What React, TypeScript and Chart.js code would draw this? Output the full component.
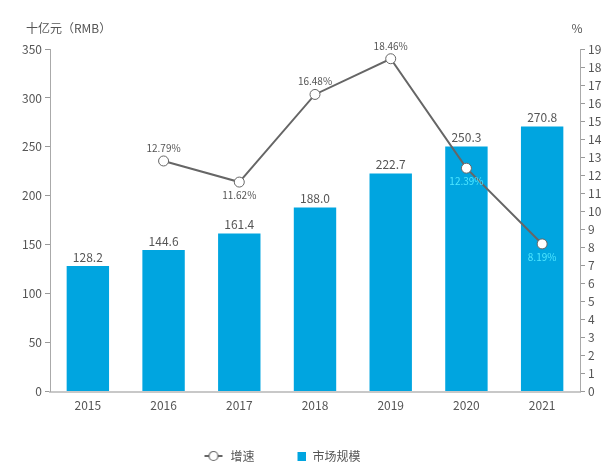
import { useEffect, useRef } from "react"
import { Chart, registerables } from "chart.js"
import type { Plugin } from "chart.js"

Chart.register(...registerables)

const years = ["2015", "2016", "2017", "2018", "2019", "2020", "2021"]
const marketSize = [128.2, 144.6, 161.4, 188.0, 222.7, 250.3, 270.8]
const growthRate = [null, 12.79, 11.62, 16.48, 18.46, 12.39, 8.19]
const growthLabelBelow = [false, false, true, false, false, true, true]
const leftTitle = "十亿元（RMB）"
const rightTitle = "%"

const FONT = "'Noto Sans CJK SC', 'Noto Sans', sans-serif"
const BLUE = "#00A5E0"
const GREY = "#666666"
const TEXT = "#555555"

// legend icons, both 22px wide so the legend boxes line up
function makeLineIcon() {
  const c = document.createElement("canvas")
  c.width = 22
  c.height = 12
  const ctx = c.getContext("2d")
  if (ctx) {
    ctx.strokeStyle = GREY
    ctx.lineWidth = 2
    ctx.beginPath()
    ctx.moveTo(2, 6)
    ctx.lineTo(20, 6)
    ctx.stroke()
    ctx.beginPath()
    ctx.arc(11, 6, 4.5, 0, Math.PI * 2)
    ctx.fillStyle = "#fff"
    ctx.fill()
    ctx.lineWidth = 1.2
    ctx.stroke()
  }
  return c
}

function makeSquareIcon() {
  const c = document.createElement("canvas")
  c.width = 22
  c.height = 12
  const ctx = c.getContext("2d")
  if (ctx) {
    ctx.fillStyle = BLUE
    ctx.fillRect(13, 2, 9, 9)
  }
  return c
}

// legend in the original sits a little left of centre
const legendShift: Plugin = {
  id: "legendShift",
  afterLayout(chart) {
    const lg: any = chart.legend
    if (!lg) return
    lg.left -= 22
    lg.right -= 22
  },
}

const labelPlugin: Plugin = {
  id: "labels",
  afterDatasetsDraw(chart) {
    const ctx = chart.ctx
    ctx.save()
    ctx.textAlign = "center"

    // bar values
    const barMeta = chart.getDatasetMeta(1)
    ctx.font = `12px ${FONT}`
    ctx.fillStyle = TEXT
    ctx.textBaseline = "bottom"
    barMeta.data.forEach((el, i) => {
      ctx.fillText(marketSize[i].toFixed(1), el.x, el.y - 3)
    })

    // growth labels
    const lineMeta = chart.getDatasetMeta(0)
    ctx.font = `10px ${FONT}`
    lineMeta.data.forEach((el, i) => {
      const v = growthRate[i]
      if (v == null) return
      const below = growthLabelBelow[i]
      const inBar = i >= 5
      ctx.fillStyle = inBar ? "#4FE6FF" : TEXT
      ctx.textBaseline = below ? "top" : "bottom"
      ctx.fillText(v.toFixed(2) + "%", el.x, below ? el.y + 8 : el.y - 8)
    })

    // axis titles
    const area = chart.chartArea
    ctx.font = `12px ${FONT}`
    ctx.fillStyle = TEXT
    ctx.textBaseline = "middle"
    ctx.textAlign = "left"
    ctx.fillText(leftTitle, 26, area.top - 21)
    ctx.textAlign = "center"
    ctx.fillText(rightTitle, area.right - 3, area.top - 21)
    ctx.restore()
  },
}

export default function App() {
  const chartRef = useRef<HTMLCanvasElement>(null)
  const chartInstance = useRef<Chart | null>(null)

  useEffect(() => {
    document.body.style.margin = "0"
    if (!chartRef.current) return
    if (chartInstance.current) chartInstance.current.destroy()
    const ctx = chartRef.current.getContext("2d")
    if (!ctx) return

    const lineIcon = makeLineIcon()
    const squareIcon = makeSquareIcon()

    chartInstance.current = new Chart(ctx, {
      type: "bar",
      data: {
        labels: years,
        datasets: [
          {
            type: "line",
            label: "增速",
            data: growthRate,
            yAxisID: "y1",
            borderColor: GREY,
            borderWidth: 2,
            pointStyle: "circle",
            pointRadius: 5,
            pointBackgroundColor: "#fff",
            pointBorderColor: GREY,
            pointBorderWidth: 1,
            order: 0,
          } as any,
          {
            type: "bar",
            label: "市场规模",
            data: marketSize,
            yAxisID: "y",
            backgroundColor: BLUE,
            categoryPercentage: 1,
            barPercentage: 0.56,
            order: 1,
          },
        ],
      },
      options: {
        animation: false,
        responsive: true,
        maintainAspectRatio: false,
        layout: { padding: { top: 49, left: 0, right: 0, bottom: 0 } },
        scales: {
          x: {
            grid: { display: false, drawTicks: false },
            border: { color: "#C8C8C8", width: 2 },
            ticks: { color: TEXT, font: { family: FONT, size: 12 }, padding: 7 },
          },
          y: {
            position: "left",
            min: 0,
            max: 350,
            afterFit: (s: any) => {
              s.width = 50
            },
            grid: { drawOnChartArea: false, tickLength: 5, color: "#999" },
            border: { color: "#AAAAAA" },
            ticks: { stepSize: 50, color: TEXT, font: { family: FONT, size: 12 }, padding: 3 },
          },
          y1: {
            position: "right",
            min: 0,
            max: 19,
            afterFit: (s: any) => {
              s.width = 27
            },
            grid: { drawOnChartArea: false, tickLength: 5, color: "#999" },
            border: { color: "#AAAAAA" },
            ticks: { stepSize: 1, color: TEXT, font: { family: FONT, size: 12 }, padding: 3 },
          },
        },
        plugins: {
          legend: {
            position: "bottom",
            labels: {
              usePointStyle: true,
              pointStyleWidth: 22,
              color: TEXT,
              font: { family: FONT, size: 12 },
              padding: 30,
              generateLabels: () => [
                {
                  text: "增速",
                  pointStyle: lineIcon as any,
                  fillStyle: "#fff",
                  strokeStyle: GREY,
                  lineWidth: 0,
                  fontColor: TEXT,
                  datasetIndex: 0,
                } as any,
                {
                  text: "市场规模",
                  pointStyle: squareIcon as any,
                  fillStyle: BLUE,
                  strokeStyle: BLUE,
                  lineWidth: 0,
                  fontColor: TEXT,
                  datasetIndex: 1,
                } as any,
              ],
            },
          },
          tooltip: { enabled: false },
        },
      },
      plugins: [labelPlugin, legendShift],
    })

    return () => {
      if (chartInstance.current) {
        chartInstance.current.destroy()
        chartInstance.current = null
      }
    }
  }, [])

  return (
    <div style={{ width: 607, height: 472 }}>
      <canvas ref={chartRef} />
    </div>
  )
}
